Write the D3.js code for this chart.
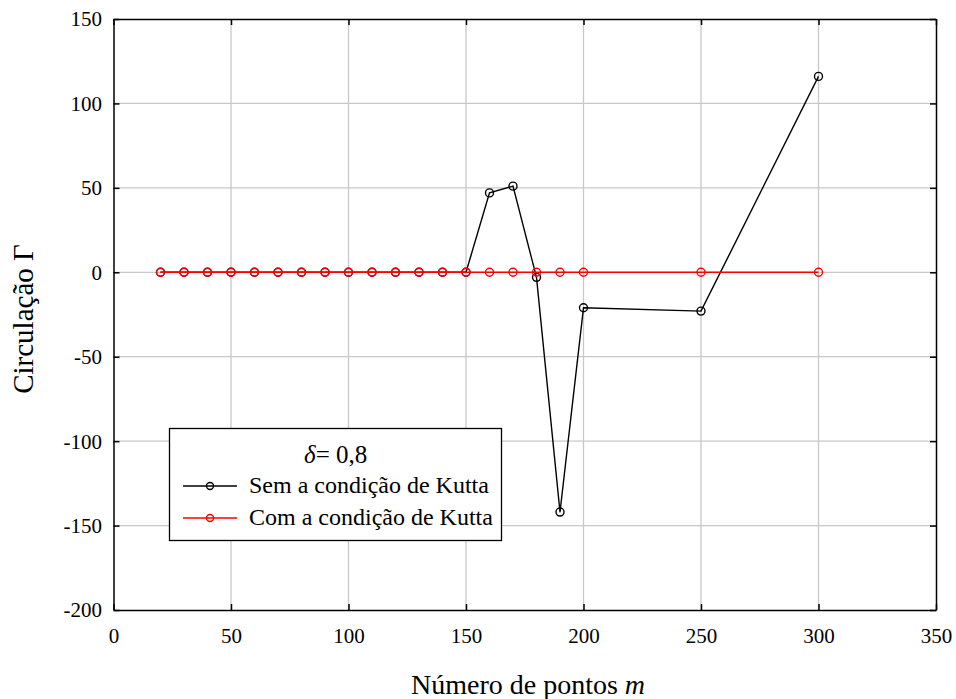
<!DOCTYPE html>
<html><head><meta charset="utf-8">
<script src="https://cdn.jsdelivr.net/npm/d3@7"></script>
<style>body{margin:0;background:#fff}svg{display:block}text{font-family:"Liberation Serif","Times New Roman",serif;fill:#000}</style>
</head><body><svg id="c" width="956" height="699"></svg>
<script>
const xBlack = [20,30,40,50,60,70,80,90,100,110,120,130,140,150,160,170,180,190,200,250,300];
const yBlack = [0,0,0,0,0,0,0,0,0,0,0,0,0,0,47,51,-3,-142,-21,-23,116];
const xRed = [20,30,40,50,60,70,80,90,100,110,120,130,140,150,160,170,180,190,200,250,300];
const yRed = [0,0,0,0,0,0,0,0,0,0,0,0,0,0,0,0,0,0,0,0,0];
const xTicks = [0,50,100,150,200,250,300,350];
const yTicks = [-200,-150,-100,-50,0,50,100,150];
const legendTitle = "= 0,8";
const seriesNames = ["Sem a condição de Kutta","Com a condição de Kutta"];
const seriesColors = ["#000000","#ff0000"];

const FONT = '"Liberation Serif","Times New Roman",serif';
const svg = d3.select("#c");
const L=113.5, R=936, T=19, B=610;
const x = d3.scaleLinear().domain([0,350]).range([L,R]);
const y = d3.scaleLinear().domain([-200,150]).range([B,T]);
const fmt = d => String(d); // hyphen-minus

// grid
svg.append("g").selectAll("line").data(xTicks.slice(1,-1)).join("line")
  .attr("x1",d=>x(d)).attr("x2",d=>x(d)).attr("y1",T).attr("y2",B)
  .attr("stroke","#c8c8c8").attr("stroke-width",1.3);
svg.append("g").selectAll("line").data(yTicks.slice(1,-1)).join("line")
  .attr("y1",d=>y(d)).attr("y2",d=>y(d)).attr("x1",L).attr("x2",R)
  .attr("stroke","#c8c8c8").attr("stroke-width",1.3);

const ax = (gen, tr) => svg.append("g").attr("transform",tr).call(gen);
const gB = ax(d3.axisBottom(x).tickValues(xTicks).tickSize(-6).tickFormat(fmt).tickSizeOuter(0), `translate(0,${B})`);
const gL = ax(d3.axisLeft(y).tickValues(yTicks).tickSize(-6).tickFormat(fmt).tickSizeOuter(0), `translate(${L},0)`);
const gT = ax(d3.axisTop(x).tickValues(xTicks).tickSize(-6).tickFormat("").tickSizeOuter(0), `translate(0,${T})`);
const gR = ax(d3.axisRight(y).tickValues(yTicks).tickSize(-6).tickFormat("").tickSizeOuter(0), `translate(${R},0)`);
[gB,gL,gT,gR].forEach(g=>{
  g.attr("font-family",FONT).attr("font-size",21);
  g.selectAll("path").attr("stroke","#000").attr("stroke-width",1.5);
  g.selectAll("line").attr("stroke","#000").attr("stroke-width",1.5);
  g.selectAll("text").attr("fill","#000");
});
gB.selectAll("text").attr("y",33).attr("dy",0);
gL.selectAll("text").attr("x",-11.5).attr("dy","0.33em");

// series
function drawSeries(xs, ys, color){
  const pts = xs.map((v,i)=>[v,ys[i]]);
  svg.append("path").datum(pts)
    .attr("d", d3.line().x(d=>x(d[0])).y(d=>y(d[1])))
    .attr("fill","none").attr("stroke",color).attr("stroke-width",1.4);
  svg.append("g").selectAll("circle").data(pts).join("circle")
    .attr("cx",d=>x(d[0])).attr("cy",d=>y(d[1])).attr("r",4)
    .attr("fill","none").attr("stroke",color).attr("stroke-width",1.4);
}
drawSeries(xBlack,yBlack,seriesColors[0]);
drawSeries(xRed,yRed,seriesColors[1]);

// axis titles
svg.append("text").attr("x",528).attr("y",694).attr("text-anchor","middle").attr("font-size",28)
  .html('Número de pontos <tspan font-style="italic">m</tspan>');
svg.append("text").attr("transform","translate(33,319) rotate(-90)").attr("text-anchor","middle").attr("font-size",29)
  .text("Circulação Γ");

// legend
const lg = svg.append("g");
lg.append("rect").attr("x",169.5).attr("y",428.5).attr("width",332).attr("height",112)
  .attr("fill","#fff").attr("stroke","#000").attr("stroke-width",1.3);
lg.append("text").attr("x",304).attr("y",463).attr("font-size",25)
  .html('<tspan font-style="italic">δ</tspan>' + legendTitle);
seriesNames.forEach((n,i)=>{
  const yy = 486 + i*32;
  lg.append("line").attr("x1",183).attr("x2",237).attr("y1",yy).attr("y2",yy).attr("stroke",seriesColors[i]).attr("stroke-width",1.4);
  lg.append("circle").attr("cx",210).attr("cy",yy).attr("r",3.5).attr("fill","none").attr("stroke",seriesColors[i]).attr("stroke-width",1.4);
  lg.append("text").attr("x",249).attr("y",yy+7).attr("font-size",24).text(n);
});
</script></body></html>
